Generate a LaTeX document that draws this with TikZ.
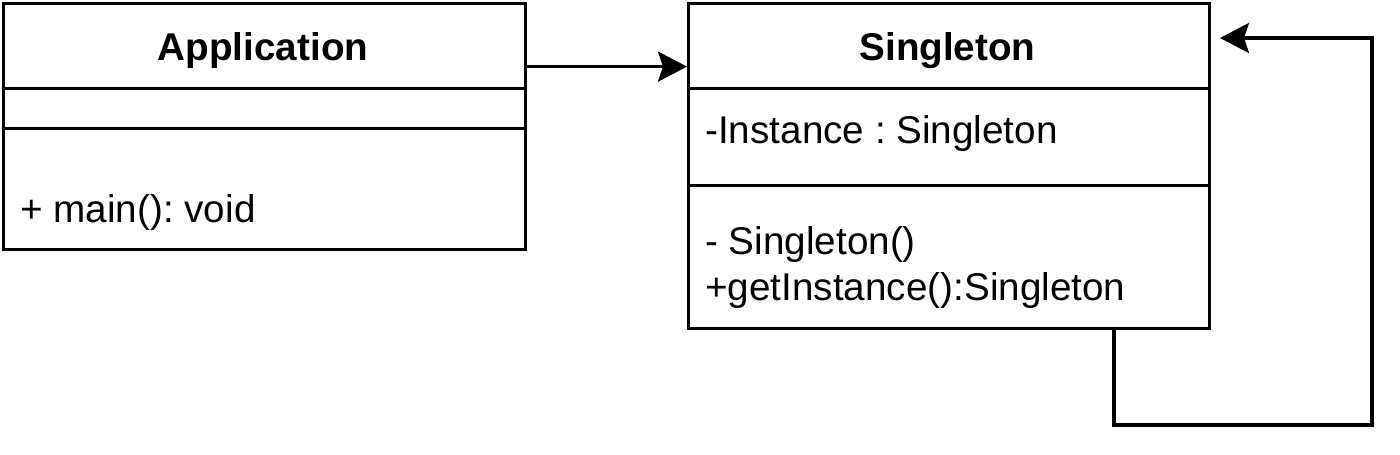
\documentclass[tikz,border=0pt]{standalone}
\usepackage{fontspec}
\setmainfont{Liberation Sans}
\usetikzlibrary{positioning, arrows.meta, calc}
\frenchspacing

\begin{document}
\begin{tikzpicture}[
  x=0.02cm, y=-0.02cm,
  >={Stealth[length=0.58cm, width=0.6cm, inset=0.1cm]},
  compart/.style={rectangle, draw, line width=0.065cm, inner sep=0pt,
    anchor=north west, minimum width=#1},
  compart/.default={10.44cm},
  title/.style={font=\fontsize{22}{26}\selectfont\bfseries, anchor=base,
    inner sep=0pt},
  member/.style={font=\fontsize{22}{26}\selectfont, anchor=base west,
    inner sep=0pt},
  assoc/.style={->, line width=0.065cm},
]
\useasboundingbox (0,0) rectangle (1400,454);

% --- Application class ---
\node[compart, minimum height=1.7cm]  (appHead) at (2,2)   {};
\node[compart, minimum height=0.8cm]  (appAttr) at (2,87)  {};
\node[compart, minimum height=2.42cm] (appOps)  at (2,127) {};
\node[title]  (appName) at (263,60) {Application};
\node[member] (appMain) at (20,222) {+ main(): void};

% --- Singleton class ---
\node[compart=10.42cm, minimum height=1.7cm]  (sgHead) at (687,2)   {};
\node[compart=10.42cm, minimum height=1.94cm] (sgAttr) at (687,87)  {};
\node[compart=10.42cm, minimum height=2.86cm] (sgOps)  at (687,184) {};
\node[title]  (sgName) at (947.5,60) {Singleton};
\node[member] (sgInst) at (705,143) {-Instance : Singleton};
\node[member] (sgCtor) at (705,254) {- Singleton()};
\node[member] (sgGet)  at (705,300) {+getInstance():Singleton};

% --- Associations ---
\draw[assoc] ([yshift=-0.41cm]appHead.east) -- ([yshift=-0.41cm]sgHead.west);

\coordinate (loopA)  at (1114,425);
\coordinate (loopB)  at (1372,425);
\coordinate (selfIn) at (1220,38);
\draw[assoc] (sgOps.south -| loopA) -- (loopA) -- (loopB) |- (selfIn);

\end{tikzpicture}
\end{document}
